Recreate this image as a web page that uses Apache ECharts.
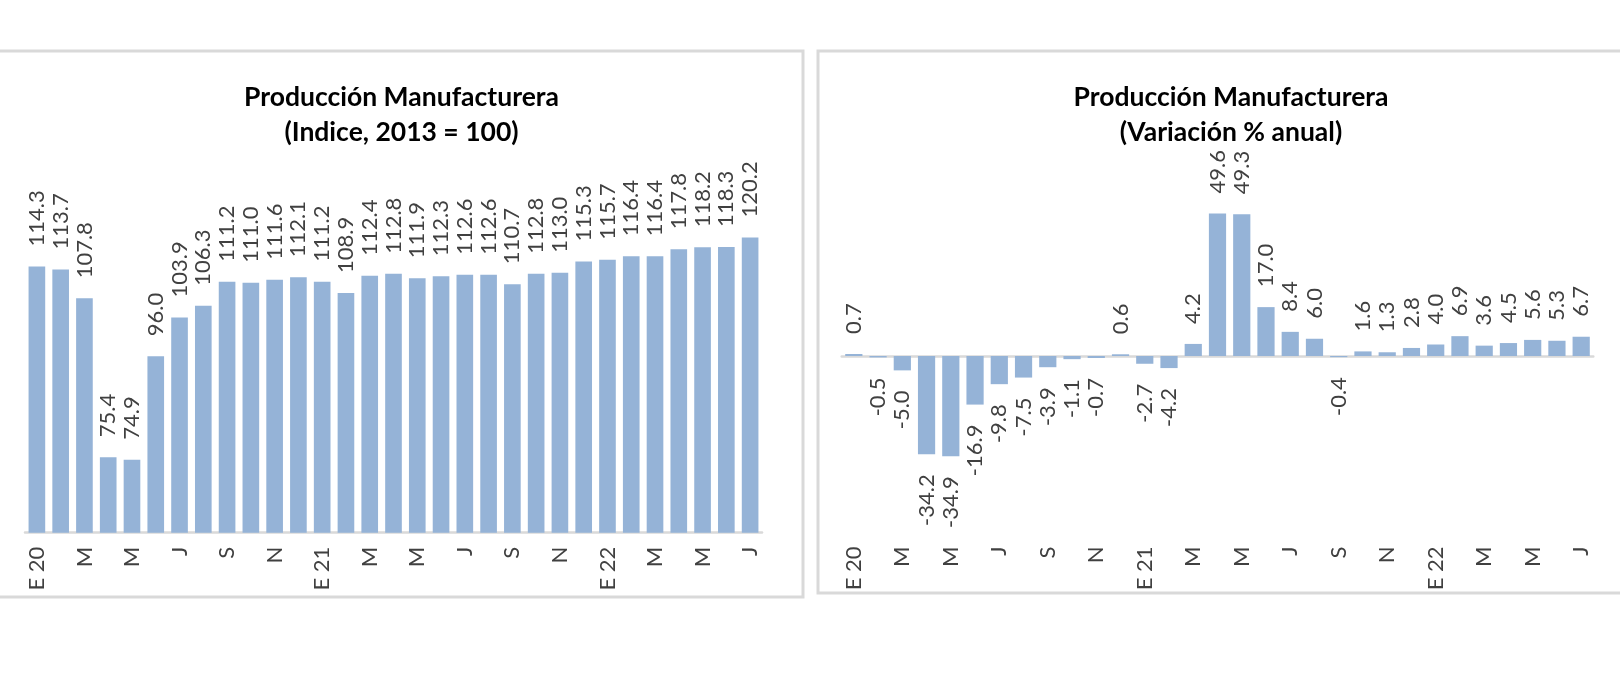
<!DOCTYPE html>
<html>
<head>
<meta charset="utf-8">
<script src="https://cdn.jsdelivr.net/npm/echarts@6/dist/echarts.min.js"></script>
<style>html,body{margin:0;padding:0;background:#fff;}#c{width:1620px;height:700px;}</style>
</head>
<body>
<div id="c"></div>
<script>
const categories = ['E 20','F','M','A','M','J','J','A','S','O','N','D','E 21','F','M','A','M','J','J','A','S','O','N','D','E 22','F','M','A','M','J','J'];
const indexValues = [114.3,113.7,107.8,75.4,74.9,96.0,103.9,106.3,111.2,111.0,111.6,112.1,111.2,108.9,112.4,112.8,111.9,112.3,112.6,112.6,110.7,112.8,113.0,115.3,115.7,116.4,116.4,117.8,118.2,118.3,120.2];
const changeValues = [0.7,-0.5,-5.0,-34.2,-34.9,-16.9,-9.8,-7.5,-3.9,-1.1,-0.7,0.6,-2.7,-4.2,4.2,49.6,49.3,17.0,8.4,6.0,-0.4,1.6,1.3,2.8,4.0,6.9,3.6,4.5,5.6,5.3,6.7];
const titleLeft = 'Producción Manufacturera\n(Indice, 2013 = 100)';
const titleRight = 'Producción Manufacturera\n(Variación % anual)';

const FONT = 'Lato';
const BAR = '#95b3d7';
const AX = '#d9d9d9';
const TXT = '#404040';

const chart = echarts.init(document.getElementById('c'), null, {renderer: 'canvas'});

const labelBase = {
  show: true, position: 'top', rotate: 90, align: 'left', verticalAlign: 'middle',
  distance: 20, fontSize: 22, color: TXT, fontFamily: FONT,
  formatter: p => Number(p.value).toFixed(1)
};
const axisLabelBase = {interval: 1, rotate: 90, fontSize: 22, color: TXT, fontFamily: FONT};

const changeData = changeValues.map(v => v < 0
  ? {value: v, label: {position: 'bottom', align: 'right'}}
  : {value: v});

const titleStyle = {fontFamily: FONT, fontWeight: 'bold', fontSize: 26.5, lineHeight: 35, color: '#000'};

const option = {
  backgroundColor: '#fff',
  animation: false,
  graphic: [
    {type: 'rect', shape: {x: -5, y: 51, width: 808, height: 546}, style: {fill: 'none', stroke: AX, lineWidth: 3}, silent: true, z: -1},
    {type: 'rect', shape: {x: 818, y: 51, width: 820, height: 542}, style: {fill: 'none', stroke: AX, lineWidth: 3}, silent: true, z: -1}
  ],
  title: [
    {text: titleLeft, left: 396.5, top: 75, textAlign: 'center', textStyle: titleStyle},
    {text: titleRight, left: 1226, top: 75, textAlign: 'center', textStyle: titleStyle}
  ],
  grid: [
    {left: 25, width: 737, top: 140.5, height: 392.2},
    {left: 841.7, width: 751.6, top: 183.5, height: 345}
  ],
  xAxis: [
    {gridIndex: 0, type: 'category', data: categories, position: 'bottom',
     axisLine: {show: true, onZero: false, lineStyle: {color: AX, width: 2.5}},
     axisTick: {show: false},
     axisLabel: Object.assign({margin: 14}, axisLabelBase)},
    {gridIndex: 1, type: 'category', data: categories, position: 'bottom',
     axisLine: {show: false, onZero: false},
     axisTick: {show: false},
     axisLabel: Object.assign({margin: 18}, axisLabelBase)},
    {gridIndex: 1, type: 'category', data: categories, position: 'bottom',
     axisLine: {show: true, onZero: true, lineStyle: {color: AX, width: 2.5}},
     axisTick: {show: false},
     axisLabel: {show: false}}
  ],
  yAxis: [
    {gridIndex: 0, type: 'value', min: 60, max: 140, show: false},
    {gridIndex: 1, type: 'value', min: -60, max: 60, show: false}
  ],
  series: [
    {type: 'bar', xAxisIndex: 0, yAxisIndex: 0, data: indexValues, barCategoryGap: '30%',
     itemStyle: {color: BAR}, label: labelBase},
    {type: 'bar', xAxisIndex: 1, yAxisIndex: 1, data: changeData, barCategoryGap: '29%',
     itemStyle: {color: BAR}, label: labelBase}
  ]
};
chart.setOption(option);
</script>
</body>
</html>
